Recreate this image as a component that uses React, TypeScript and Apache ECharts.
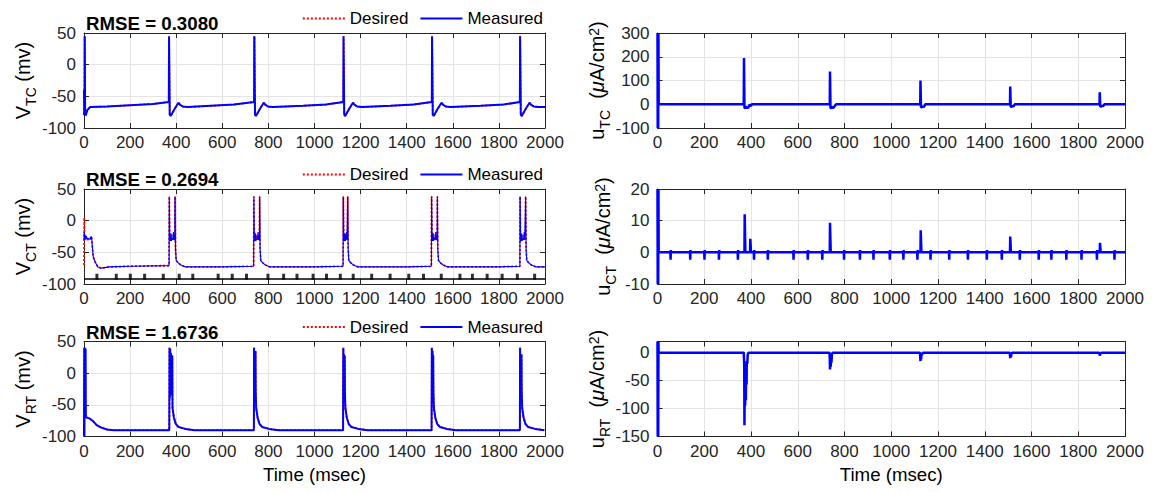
import React, { useEffect, useRef } from "react";
import * as echarts from "echarts";

const FONT = "'Liberation Sans', Arial, Helvetica, sans-serif";
const INK = "#262626";

// ---------- data ----------
const X_TICKS = { min: 0, max: 2000, interval: 200 };

const TC_DESIRED: number[][] = [
  [0, -76], [1, -80], [2, -78], [3, 45], [4, 45], [5, -78], [8, -80], [14, -72], [26, -67], [100, -66], [200, -64], [300, -62],
  [368, -59], [369, 45], [371, 45], [372, -79], [376, -81], [393, -70], [405, -63], [410, -60], [416, -63], [428, -66], [448, -67], [550, -65], [650, -63],
  [738, -59], [739, 45], [741, 45], [742, -79], [746, -81], [763, -70], [775, -63], [780, -60], [786, -63], [798, -66], [818, -67], [950, -65], [1050, -63],
  [1125, -59], [1126, 45], [1128, 45], [1129, -79], [1133, -81], [1150, -70], [1162, -63], [1167, -60], [1173, -63], [1185, -66], [1205, -67], [1330, -65], [1430, -63],
  [1509, -59], [1510, 45], [1512, 45], [1513, -79], [1517, -81], [1534, -70], [1546, -63], [1551, -60], [1557, -63], [1569, -66], [1589, -67], [1720, -65], [1820, -63],
  [1891, -59], [1892, 45], [1894, 45], [1895, -79], [1899, -81], [1916, -70], [1928, -63], [1933, -60], [1939, -63], [1951, -66], [1971, -67], [2000, -67],
];
const TC_MEASURED: number[][] = [
  [0, -40], [1, -80], [2, -78], [3, 45], [4, 45], [5, -78], [8, -80], [14, -72], [26, -67], [100, -66], [200, -64], [300, -62],
  [368, -59], [369, 45], [371, 45], [372, -79], [376, -81], [393, -70], [405, -63], [410, -60], [416, -63], [428, -66], [448, -67], [550, -65], [650, -63],
  [738, -59], [739, 45], [741, 45], [742, -79], [746, -81], [763, -70], [775, -63], [780, -60], [786, -63], [798, -66], [818, -67], [950, -65], [1050, -63],
  [1125, -59], [1126, 45], [1128, 45], [1129, -79], [1133, -81], [1150, -70], [1162, -63], [1167, -60], [1173, -63], [1185, -66], [1205, -67], [1330, -65], [1430, -63],
  [1509, -59], [1510, 45], [1512, 45], [1513, -79], [1517, -81], [1534, -70], [1546, -63], [1551, -60], [1557, -63], [1569, -66], [1589, -67], [1720, -65], [1820, -63],
  [1891, -59], [1892, 45], [1894, 45], [1895, -79], [1899, -81], [1916, -70], [1928, -63], [1933, -60], [1939, -63], [1951, -66], [1971, -67], [2000, -67],
];

const CT_DESIRED: number[][] = [
  [0, -70], [1, 5], [2, -30], [8, -30], [27, -30], [30, -25], [33, -26], [36, -40], [40, -57], [48, -65], [60, -73], [75, -75], [110, -73], [200, -72], [369, -71],
  [370, 38], [371, 38], [372, -30], [376, -30], [380, -22], [385, -30], [390, -28], [394, -30], [395, 38], [396, 38], [397, -45], [400, -63], [410, -67], [420, -70], [440, -73], [600, -73],
  [736, -72], [737, 38], [738, 38], [739, -30], [743, -30], [747, -22], [752, -30], [757, -28], [761, -30], [762, 38], [763, 38], [764, -45], [767, -63], [777, -67], [787, -70], [807, -73], [1000, -73],
  [1124, -72], [1125, 38], [1126, 38], [1127, -30], [1131, -30], [1135, -22], [1139, -30], [1143, -30], [1144, 38], [1145, 38], [1146, -45], [1149, -63], [1159, -67], [1169, -70], [1189, -73], [1400, -73],
  [1507, -72], [1508, 38], [1509, 38], [1510, -30], [1514, -30], [1518, -22], [1523, -30], [1528, -28], [1532, -30], [1533, 38], [1534, 38], [1535, -45], [1538, -63], [1548, -67], [1558, -70], [1578, -73], [1800, -73],
  [1891, -72], [1892, 38], [1893, 38], [1894, -30], [1898, -30], [1902, -22], [1907, -30], [1911, -28], [1915, -30], [1916, 38], [1917, 38], [1918, -45], [1921, -63], [1931, -67], [1941, -70], [1961, -73], [2000, -73],
];
const CT_MEASURED: number[][] = [
  [0, -30], [1, -18], [2, -30], [4, -22], [7, -30], [10, -24], [14, -29], [20, -28], [27, -30], [30, -25], [33, -26], [36, -40], [40, -57], [48, -65], [60, -73], [75, -75], [110, -73], [200, -72], [369, -71],
  [370, 38], [371, 38], [372, -30], [375, -32], [377, -20], [379, -32], [382, -28], [385, -30], [388, -18], [390, -30], [394, -30], [395, 38], [396, 38], [397, -45], [400, -63], [410, -67], [420, -70], [440, -73], [600, -73],
  [736, -72], [737, 38], [738, 38], [739, -30], [742, -32], [744, -20], [746, -32], [749, -28], [752, -30], [755, -18], [757, -30], [761, -30], [762, 38], [763, 38], [764, -45], [767, -63], [777, -67], [787, -70], [807, -73], [1000, -73],
  [1124, -72], [1125, 38], [1126, 38], [1127, -30], [1130, -32], [1132, -20], [1134, -32], [1137, -28], [1139, -18], [1141, -30], [1143, -30], [1144, 38], [1145, 38], [1146, -45], [1149, -63], [1159, -67], [1169, -70], [1189, -73], [1400, -73],
  [1507, -72], [1508, 38], [1509, 38], [1510, -30], [1513, -32], [1515, -20], [1517, -32], [1520, -28], [1523, -30], [1526, -18], [1528, -30], [1532, -30], [1533, 38], [1534, 38], [1535, -45], [1538, -63], [1548, -67], [1558, -70], [1578, -73], [1800, -73],
  [1891, -72], [1892, 38], [1893, 38], [1894, -30], [1897, -32], [1899, -20], [1901, -32], [1904, -28], [1907, -30], [1910, -18], [1912, -30], [1915, -30], [1916, 38], [1917, 38], [1918, -45], [1921, -63], [1931, -67], [1941, -70], [1961, -73], [2000, -73],
];
const STIM_BASE: number[][] = [[0, -92], [2000, -92]];
const STIM_TIMES = [56, 140, 201, 263, 344, 413, 472, 582, 643, 705, 798, 866, 924, 994, 1052, 1112, 1168, 1248, 1328, 1409, 1473, 1550, 1631, 1685, 1749, 1814, 1880, 1955];
const STIM_LEVEL = -88.5;

const RT_DESIRED: number[][] = [
  [0, -88], [2, 40], [4, -70], [10, -70], [20, -71], [30, -73], [40, -76], [55, -82], [75, -86], [100, -89], [130, -90], [370, -90],
  [371, 40], [372, -40], [374, 38], [375, -35], [377, 32], [378, -30], [380, 28], [381, -25], [383, 28], [384, -55], [386, -60], [390, -70], [398, -80], [410, -85], [440, -88], [480, -90], [737, -90],
  [738, 40], [739, -40], [741, 22], [742, -35], [744, 35], [745, -30], [747, -55], [749, -60], [753, -70], [761, -80], [773, -85], [803, -88], [843, -90], [1124, -90],
  [1125, 40], [1126, -40], [1128, 30], [1129, -35], [1131, 28], [1132, -30], [1134, -55], [1136, -60], [1140, -70], [1148, -80], [1160, -85], [1190, -88], [1230, -90], [1508, -90],
  [1509, 40], [1510, -40], [1512, 35], [1513, -35], [1515, 28], [1516, -30], [1518, -55], [1520, -60], [1524, -70], [1532, -80], [1544, -85], [1574, -88], [1614, -90], [1891, -90],
  [1892, 40], [1893, -40], [1895, 30], [1896, -35], [1898, 30], [1899, -30], [1901, -55], [1903, -60], [1907, -70], [1915, -80], [1927, -85], [1957, -88], [1997, -90], [2000, -90],
];
const RT_MEASURED: number[][] = [
  [0, -100], [1, 40], [2, -100], [3, 40], [4, -20], [5, 40], [6, -30], [7, 38], [8, -65], [10, -70], [20, -71], [30, -73], [40, -76], [55, -82], [75, -86], [100, -89], [130, -90], [370, -90],
  [371, 40], [372, -40], [374, 38], [375, -35], [377, 32], [378, -30], [380, 28], [381, -25], [383, 28], [384, -55], [386, -60], [390, -70], [398, -80], [410, -85], [440, -88], [480, -90], [737, -90],
  [738, 40], [739, -40], [741, 22], [742, -35], [744, 35], [745, -30], [747, -55], [749, -60], [753, -70], [761, -80], [773, -85], [803, -88], [843, -90], [1124, -90],
  [1125, 40], [1126, -40], [1128, 30], [1129, -35], [1131, 28], [1132, -30], [1134, -55], [1136, -60], [1140, -70], [1148, -80], [1160, -85], [1190, -88], [1230, -90], [1508, -90],
  [1509, 40], [1510, -40], [1512, 35], [1513, -35], [1515, 28], [1516, -30], [1518, -55], [1520, -60], [1524, -70], [1532, -80], [1544, -85], [1574, -88], [1614, -90], [1891, -90],
  [1892, 40], [1893, -40], [1895, 30], [1896, -35], [1898, 30], [1899, -30], [1901, -55], [1903, -60], [1907, -70], [1915, -80], [1927, -85], [1957, -88], [1997, -90], [2000, -90],
];

const U_TC: number[][] = [
  [0, 300], [1, -100], [2, 300], [3, -100], [4, 300], [5, 0], [369, 0], [370, 195], [371, 195], [372, -15], [375, -17], [378, -8], [381, -17], [384, -12], [388, -16], [392, -5], [396, -3], [400, -8], [403, 0],
  [737, 0], [738, 138], [739, 138], [740, -15], [743, -17], [747, -10], [751, -16], [755, -12], [760, -5], [764, 0],
  [1124, 0], [1125, 100], [1126, 100], [1127, -12], [1131, -13], [1135, -8], [1139, -12], [1143, -5], [1146, 0],
  [1508, 0], [1509, 75], [1510, 75], [1511, -10], [1514, -11], [1518, -6], [1522, -10], [1526, -4], [1529, 0],
  [1891, 0], [1892, 50], [1893, 50], [1894, -9], [1898, -10], [1902, -5], [1906, -9], [1910, -3], [1913, 0], [2000, 0],
];
const U_CT: number[][] = [
  [0, 20], [1, -10], [2, 20], [3, -10], [4, 20], [5, 0],
  [55, 0], [56, -2.3], [57, 0.7], [58, 0], [139, 0], [140, -2.3], [141, 0.7], [142, 0],
  [200, 0], [201, -2.3], [202, 0.7], [203, 0], [262, 0], [263, -2.3], [264, 0.7], [265, 0],
  [343, 0], [344, -2.3], [345, 0.7], [346, 0], [372, 0], [373, 12], [375, 12], [376, 0],
  [396, 0], [397, 4.3], [399, 4.3], [400, 0], [412, 0], [413, -2.3], [414, 0.7], [415, 0],
  [471, 0], [472, -2.3], [473, 0.7], [474, 0], [581, 0], [582, -2.3], [583, 0.7], [584, 0],
  [642, 0], [643, -2.3], [644, 0.7], [645, 0], [704, 0], [705, -2.3], [706, 0.7], [707, 0],
  [737, 0], [738, 9.3], [740, 9.3], [741, 0], [797, 0], [798, -2.3], [799, 0.7], [800, 0],
  [865, 0], [866, -2.3], [867, 0.7], [868, 0], [923, 0], [924, -2.3], [925, 0.7], [926, 0],
  [993, 0], [994, -2.3], [995, 0.7], [996, 0], [1051, 0], [1052, -2.3], [1053, 0.7], [1054, 0],
  [1111, 0], [1112, -2.3], [1113, 0.7], [1114, 0], [1125, 0], [1126, 7], [1128, 7], [1129, 0],
  [1167, 0], [1168, -2.3], [1169, 0.7], [1170, 0], [1247, 0], [1248, -2.3], [1249, 0.7], [1250, 0],
  [1327, 0], [1328, -2.3], [1329, 0.7], [1330, 0], [1408, 0], [1409, -2.3], [1410, 0.7], [1411, 0],
  [1472, 0], [1473, -2.3], [1474, 0.7], [1475, 0], [1508, 0], [1509, 5], [1511, 5], [1512, 0],
  [1549, 0], [1550, -2.3], [1551, 0.7], [1552, 0], [1630, 0], [1631, -2.3], [1632, 0.7], [1633, 0],
  [1684, 0], [1685, -2.3], [1686, 0.7], [1687, 0], [1748, 0], [1749, -2.3], [1750, 0.7], [1751, 0],
  [1813, 0], [1814, -2.3], [1815, 0.7], [1816, 0], [1879, 0], [1880, -2.3], [1881, 0.7], [1882, 0],
  [1892, 0], [1893, 3], [1895, 3], [1896, 0], [1954, 0], [1955, -2.3], [1956, 0.7], [1957, 0], [2000, 0],
];
const U_RT: number[][] = [
  [0, 20], [1, -150], [2, 20], [3, -150], [4, 20], [5, 0], [369, 0], [370, -10], [371, -20], [372, -130], [373, -60], [375, -95], [376, -40], [378, -85], [379, -30], [381, -57], [382, -15], [384, -20], [386, -3], [390, 0],
  [736, 0], [737, -10], [738, -30], [739, -12], [741, -25], [742, -10], [744, -18], [746, -3], [750, 0],
  [1123, 0], [1124, -8], [1125, -15], [1126, -5], [1128, -12], [1129, -4], [1132, -3], [1136, 0],
  [1507, 0], [1508, -5], [1509, -10], [1510, -4], [1512, -8], [1514, -2], [1518, 0],
  [1890, 0], [1891, -3], [1892, -5], [1894, -3], [1897, -1], [1900, 0], [2000, 0],
];

const Y_RANGES = [
  [-100, 50, 50], [-100, 50, 50], [-100, 50, 50],
  [-100, 300, 100], [-10, 20, 10], [-150, 20, 50],
];
const Y_NAMES = [
  "{m|V}{s|TC}{m| (mv)}",
  "{m|V}{s|CT}{m| (mv)}",
  "{m|V}{s|RT}{m| (mv)}",
  "{m|u}{s|TC}{m|  (}{i|μ}{m|A/cm}{p|2}{m|)}",
  "{m|u}{s|CT}{m|  (}{i|μ}{m|A/cm}{p|2}{m|)}",
  "{m|u}{s|RT}{m|  (}{i|μ}{m|A/cm}{p|2}{m|)}",
];
const RMSE_TEXTS = ["RMSE = 0.3080", "RMSE = 0.2694", "RMSE = 1.6736"];
const LEGEND_NAMES = [
  ["Desired", "Measured"],
  ["Desired ", "Measured "],
  ["Desired  ", "Measured  "],
];
const X_NAME = "Time (msec)";

// ---------- layout ----------
const ROW_TOPS = [33, 189, 341.5];
const ROW_H = 95;
const COLS = [
  { left: 84, width: 461 },
  { left: 657.5, width: 467.5 },
];

const rich = {
  m: { fontSize: 20, lineHeight: 23, verticalAlign: "top", color: "#000", fontFamily: FONT },
  i: { fontSize: 20, lineHeight: 23, verticalAlign: "top", fontStyle: "italic", color: "#000", fontFamily: FONT },
  s: { fontSize: 14, lineHeight: 15, verticalAlign: "top", padding: [11, 0, 0, 0], color: "#000", fontFamily: FONT },
  p: { fontSize: 14, lineHeight: 15, verticalAlign: "top", color: "#000", fontFamily: FONT },
};

const TRANSPARENT = "rgba(0,0,0,0)";

function buildOption() {
  const grids: any[] = [];
  for (let c = 0; c < 2; c++) {
    for (let r = 0; r < 3; r++) {
      grids.push({ left: COLS[c].left, top: ROW_TOPS[r], width: COLS[c].width, height: ROW_H, containLabel: false });
    }
  }
  const plain = (v: number) => String(v);
  const xAxes: any[] = [];
  const yAxes: any[] = [];
  for (let g = 0; g < 6; g++) {
    const bottomRow = g % 3 === 2;
    xAxes.push({
      type: "value", gridIndex: g, position: "bottom", ...X_TICKS,
      name: bottomRow ? X_NAME : "", nameLocation: "middle", nameGap: 28,
      nameTextStyle: { fontSize: 18.7, color: "#000", fontFamily: FONT },
      axisLine: { show: true, onZero: false, lineStyle: { color: INK, width: 1 } },
      axisTick: { show: true, inside: true, length: 5, lineStyle: { color: INK, width: 1 } },
      axisLabel: { fontSize: 17, color: INK, fontFamily: FONT, margin: 6, formatter: plain },
      splitLine: { show: true, lineStyle: { color: "#e4e4e4", width: 1 } },
    });
    const [mn, mx, iv] = Y_RANGES[g];
    yAxes.push({
      type: "value", gridIndex: g, position: "left", min: mn, max: mx, interval: iv,
      name: Y_NAMES[g], nameLocation: "middle", nameGap: 42,
      nameTextStyle: { rich },
      axisLine: { show: true, onZero: false, lineStyle: { color: INK, width: 1 } },
      axisTick: { show: true, inside: true, length: 5, lineStyle: { color: INK, width: 1 } },
      axisLabel: { fontSize: 17, color: INK, fontFamily: FONT, margin: 8, formatter: plain, showMaxLabel: mx % iv === 0 },
      splitLine: { show: true, lineStyle: { color: "#e4e4e4", width: 1 } },
    });
  }
  for (let g = 0; g < 6; g++) {
    xAxes.push({
      type: "value", gridIndex: g, position: "top", ...X_TICKS,
      axisLine: { show: true, onZero: false, lineStyle: { color: INK, width: 1 } },
      axisTick: { show: true, inside: true, length: 5, lineStyle: { color: INK, width: 1 } },
      axisLabel: { show: false }, splitLine: { show: false },
    });
    const [mn, mx, iv] = Y_RANGES[g];
    yAxes.push({
      type: "value", gridIndex: g, position: "right", min: mn, max: mx, interval: iv,
      axisLine: { show: true, onZero: false, lineStyle: { color: INK, width: 1 } },
      axisTick: { show: true, inside: true, length: 5, lineStyle: { color: INK, width: 1 } },
      axisLabel: { show: false }, splitLine: { show: false },
    });
  }

  const line = (name: string, g: number, data: number[][], color: string, width: number, dotted = false, clip = true) => ({
    type: "line", name, xAxisIndex: g, yAxisIndex: g, data, symbol: "none", showSymbol: false,
    clip, silent: true,
    lineStyle: { color, width, type: dotted ? [2, 2] : "solid" },
    itemStyle: { color },
  });

  const series: any[] = [
    line("Desired", 0, TC_DESIRED, "#ff0000", 1.8, true),
    line("Measured", 0, TC_MEASURED, "#0000ff", 2),
    line("Desired ", 1, CT_DESIRED, "#ff0000", 1.8, true),
    line("Measured ", 1, CT_MEASURED, "#0000ff", 1.1),
    { type: "line", name: "stimBase", xAxisIndex: 1, yAxisIndex: 1, data: STIM_BASE, symbol: "none", lineStyle: { color: "#000", width: 1.6 }, silent: true },
    {
      type: "scatter", name: "stim", xAxisIndex: 1, yAxisIndex: 1,
      data: STIM_TIMES.map((t) => [t, STIM_LEVEL]),
      symbol: "rect", symbolSize: [3, 6], itemStyle: { color: "#000" }, silent: true,
    },
    line("Desired  ", 2, RT_DESIRED, "#ff0000", 1.8, true),
    line("Measured  ", 2, RT_MEASURED, "#0000ff", 2),
    line("uTC", 3, U_TC, "#0000ff", 2.5, false, false),
    line("uCT", 4, U_CT, "#0000ff", 2.5, false, false),
    line("uRT", 5, U_RT, "#0000ff", 2.5, false, false),
  ];

  const titles = RMSE_TEXTS.map((t, r) => ({
    text: t, left: 86, top: ROW_TOPS[r] - 19, padding: 0,
    textStyle: { fontSize: 18.7, fontWeight: "bold", color: "#000", fontFamily: FONT },
  }));

  const legends = LEGEND_NAMES.map((names, r) => ({
    data: names, right: 616, top: ROW_TOPS[r] - 23, padding: 0,
    orient: "horizontal", itemWidth: 42, itemHeight: 4, itemGap: 11,
    selectedMode: false,
    itemStyle: { color: TRANSPARENT, borderColor: TRANSPARENT, borderWidth: 0, opacity: 0 },
    formatter: (n: string) => n.trim(),
    textStyle: { fontSize: 17, color: "#000", fontFamily: FONT },
  }));

  return {
    animation: false,
    backgroundColor: "#ffffff",
    textStyle: { fontFamily: FONT },
    title: titles,
    legend: legends,
    grid: grids,
    xAxis: xAxes,
    yAxis: yAxes,
    series,
  };
}

export default function App() {
  const ref = useRef<HTMLDivElement>(null);
  useEffect(() => {
    if (!ref.current) return;
    const chart = echarts.init(ref.current, null, { renderer: "svg" });
    chart.setOption(buildOption() as any);
    return () => chart.dispose();
  }, []);
  return (
    <div
      ref={ref}
      style={{ position: "absolute", left: 0, top: 0, width: 1159, height: 492, background: "#fff" }}
    />
  );
}
